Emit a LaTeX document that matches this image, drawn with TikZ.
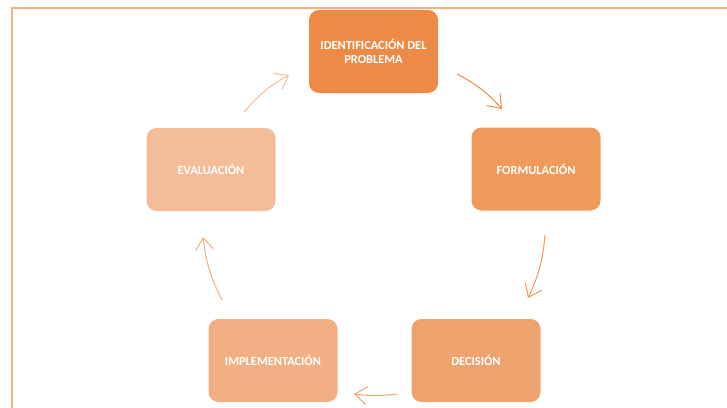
\documentclass[tikz,border=0pt]{standalone}
\usepackage{fontspec}
\setmainfont{Carlito}
\usetikzlibrary{arrows.meta}
\definecolor{frameor}{HTML}{F4B183}
\definecolor{orA}{HTML}{ED8B46}
\definecolor{orB}{HTML}{EF9A5B}
\definecolor{orC}{HTML}{EEA36E}
\definecolor{orD}{HTML}{F2AF83}
\definecolor{orE}{HTML}{F4BD99}
\begin{document}
\begin{tikzpicture}[x=1pt,y=-1pt,
  box/.style={rounded corners=10pt,minimum width=129pt,minimum height=83pt,inner sep=0pt,
    align=center,text=white,font=\fontsize{12.4}{14}\selectfont\bfseries},
  link/.style={line width=1pt,-{Straight Barb[length=12pt,width=18pt]}}]

\useasboundingbox (0,0) rectangle (727,407) ;
\draw [line width=2pt,frameor] (11.7,420) -- (11.7,8.2) -- (740,8.2) ;

\node [box,fill=orA] (ident) at (373.5,51.5) {IDENTIFICACIÓN DEL\\PROBLEMA} ;
\node [box,fill=orB] (form) at (536,169) {FORMULACIÓN} ;
\node [box,fill=orC] (decis) at (476,360.5) {DECISIÓN} ;
\node [box,fill=orD] (impl) at (273,360.5) {IMPLEMENTACIÓN} ;
\node [box,fill=orE] (eval) at (211,169.5) {EVALUACIÓN} ;

\coordinate (s1) at (457,74) ;  \coordinate (e1) at (502,109) ;
\coordinate (s2) at (545,235) ; \coordinate (e2) at (528,298) ;
\coordinate (s3) at (397,394) ; \coordinate (e3) at (354,394) ;
\coordinate (s4) at (222,300) ; \coordinate (e4) at (203,237) ;
\coordinate (s5) at (244,112) ; \coordinate (e5) at (289,75) ;

\draw [link,orA] (s1) to [bend left=10] (e1) ;
\draw [link,orB] (s2) to [bend left=10] (e2) ;
\draw [link,orC] (s3) to [bend left=7] (e3) ;
\draw [link,orD] (s4) to [bend left=10] (e4) ;
\draw [link,orE] (s5) to [bend left=10] (e5) ;
\end{tikzpicture}
\end{document}
